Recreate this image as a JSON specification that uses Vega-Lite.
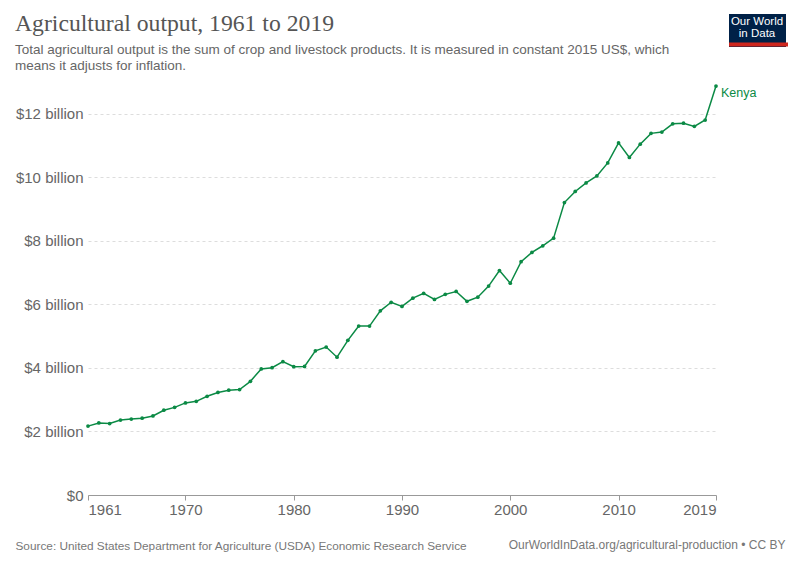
{
  "$schema": "https://vega.github.io/schema/vega-lite/v6.json",
  "width": 628,
  "height": 410,
  "autosize": {"type": "none"},
  "padding": {"left": 88, "top": 85, "right": 84, "bottom": 70},
  "background": "white",
  "config": {"view": {"stroke": null}, "font": "Liberation Sans"},
  "title": {
    "text": "Agricultural output, 1961 to 2019",
    "subtitle": ["Total agricultural output is the sum of crop and livestock products. It is measured in constant 2015 US$, which", "means it adjusts for inflation."],
    "anchor": "start",
    "frame": "group",
    "dx": -73,
    "offset": -58,
    "font": "Liberation Serif",
    "fontSize": 23.7,
    "fontWeight": "normal",
    "color": "#555555",
    "subtitleFont": "Liberation Sans",
    "subtitleFontSize": 13.5,
    "subtitleColor": "#666666",
    "subtitleLineHeight": 16,
    "subtitlePadding": 7
  },
  "data": {
    "values": [
      {"year": 1961, "country": "Kenya", "output_billion": 2.17},
      {"year": 1962, "country": "Kenya", "output_billion": 2.27},
      {"year": 1963, "country": "Kenya", "output_billion": 2.25},
      {"year": 1964, "country": "Kenya", "output_billion": 2.36},
      {"year": 1965, "country": "Kenya", "output_billion": 2.39},
      {"year": 1966, "country": "Kenya", "output_billion": 2.42},
      {"year": 1967, "country": "Kenya", "output_billion": 2.49},
      {"year": 1968, "country": "Kenya", "output_billion": 2.67},
      {"year": 1969, "country": "Kenya", "output_billion": 2.76},
      {"year": 1970, "country": "Kenya", "output_billion": 2.90},
      {"year": 1971, "country": "Kenya", "output_billion": 2.95},
      {"year": 1972, "country": "Kenya", "output_billion": 3.11},
      {"year": 1973, "country": "Kenya", "output_billion": 3.23},
      {"year": 1974, "country": "Kenya", "output_billion": 3.30},
      {"year": 1975, "country": "Kenya", "output_billion": 3.32},
      {"year": 1976, "country": "Kenya", "output_billion": 3.58},
      {"year": 1977, "country": "Kenya", "output_billion": 3.97},
      {"year": 1978, "country": "Kenya", "output_billion": 4.01},
      {"year": 1979, "country": "Kenya", "output_billion": 4.20},
      {"year": 1980, "country": "Kenya", "output_billion": 4.04},
      {"year": 1981, "country": "Kenya", "output_billion": 4.05},
      {"year": 1982, "country": "Kenya", "output_billion": 4.54},
      {"year": 1983, "country": "Kenya", "output_billion": 4.66},
      {"year": 1984, "country": "Kenya", "output_billion": 4.34},
      {"year": 1985, "country": "Kenya", "output_billion": 4.87},
      {"year": 1986, "country": "Kenya", "output_billion": 5.32},
      {"year": 1987, "country": "Kenya", "output_billion": 5.32},
      {"year": 1988, "country": "Kenya", "output_billion": 5.80},
      {"year": 1989, "country": "Kenya", "output_billion": 6.07},
      {"year": 1990, "country": "Kenya", "output_billion": 5.94},
      {"year": 1991, "country": "Kenya", "output_billion": 6.20},
      {"year": 1992, "country": "Kenya", "output_billion": 6.35},
      {"year": 1993, "country": "Kenya", "output_billion": 6.16},
      {"year": 1994, "country": "Kenya", "output_billion": 6.32},
      {"year": 1995, "country": "Kenya", "output_billion": 6.41},
      {"year": 1996, "country": "Kenya", "output_billion": 6.10},
      {"year": 1997, "country": "Kenya", "output_billion": 6.23},
      {"year": 1998, "country": "Kenya", "output_billion": 6.58},
      {"year": 1999, "country": "Kenya", "output_billion": 7.07},
      {"year": 2000, "country": "Kenya", "output_billion": 6.67},
      {"year": 2001, "country": "Kenya", "output_billion": 7.35},
      {"year": 2002, "country": "Kenya", "output_billion": 7.64},
      {"year": 2003, "country": "Kenya", "output_billion": 7.85},
      {"year": 2004, "country": "Kenya", "output_billion": 8.09},
      {"year": 2005, "country": "Kenya", "output_billion": 9.21},
      {"year": 2006, "country": "Kenya", "output_billion": 9.56},
      {"year": 2007, "country": "Kenya", "output_billion": 9.83},
      {"year": 2008, "country": "Kenya", "output_billion": 10.05},
      {"year": 2009, "country": "Kenya", "output_billion": 10.46},
      {"year": 2010, "country": "Kenya", "output_billion": 11.09},
      {"year": 2011, "country": "Kenya", "output_billion": 10.63},
      {"year": 2012, "country": "Kenya", "output_billion": 11.05},
      {"year": 2013, "country": "Kenya", "output_billion": 11.39},
      {"year": 2014, "country": "Kenya", "output_billion": 11.43},
      {"year": 2015, "country": "Kenya", "output_billion": 11.69},
      {"year": 2016, "country": "Kenya", "output_billion": 11.71},
      {"year": 2017, "country": "Kenya", "output_billion": 11.61},
      {"year": 2018, "country": "Kenya", "output_billion": 11.81},
      {"year": 2019, "country": "Kenya", "output_billion": 12.88}
    ]
  },
  "encoding": {
    "x": {
      "field": "year",
      "type": "quantitative",
      "scale": {"domain": [1961, 2019], "nice": false, "zero": false},
      "axis": {
        "values": [1961, 1970, 1980, 1990, 2000, 2010, 2019],
        "format": "d",
        "grid": false,
        "labelFlush": true,
        "domainColor": "#999999",
        "tickColor": "#999999",
        "tickSize": 5,
        "labelPadding": 2,
        "labelFontSize": 15,
        "labelColor": "#666666",
        "title": "Source: United States Department for Agriculture (USDA) Economic Research Service",
        "titleX": -73,
        "titleY": 54,
        "titleAlign": "left",
        "titleAnchor": null,
        "titleBaseline": "alphabetic",
        "titleFontSize": 11.8,
        "titleFontWeight": "normal",
        "titleColor": "#777777"
      }
    },
    "y": {
      "field": "output_billion",
      "type": "quantitative",
      "scale": {"domain": [0, 12.913], "nice": false},
      "axis": {
        "values": [0, 2, 4, 6, 8, 10, 12],
        "labelExpr": "datum.value == 0 ? '$0' : '$' + datum.value + ' billion'",
        "grid": true,
        "gridDash": [3, 3],
        "gridColor": "#dddddd",
        "domain": false,
        "ticks": false,
        "labelPadding": 5,
        "labelFontSize": 15,
        "labelColor": "#666666",
        "title": "OurWorldInData.org/agricultural-production • CC BY",
        "titleAngle": 0,
        "titleX": 697,
        "titleY": 463,
        "titleAlign": "right",
        "titleAnchor": null,
        "titleBaseline": "alphabetic",
        "titleFontSize": 12,
        "titleFontWeight": "normal",
        "titleColor": "#777777"
      }
    }
  },
  "layer": [
    {
      "mark": {"type": "line", "strokeWidth": 1.5},
      "encoding": {
        "color": {
          "field": "country",
          "type": "nominal",
          "scale": {"range": ["#0b8a45"]},
          "legend": {
            "orient": "none",
            "legendX": 641,
            "legendY": -71,
            "title": ["Our World", "in Data"],
            "titleColor": "white",
            "titleFont": "Liberation Sans",
            "titleFontSize": 11.5,
            "titleFontWeight": "normal",
            "titleLineHeight": 12,
            "titleAlign": "center",
            "titleAnchor": "middle",
            "titlePadding": 0,
            "fillColor": "#002147",
            "padding": 2,
            "symbolSize": 0,
            "symbolStrokeWidth": 0,
            "labelFontSize": 0,
            "labelOffset": 0,
            "labelExpr": "''"
          }
        },
        "opacity": {
          "datum": "bar",
          "type": "nominal",
          "scale": {"range": [1]},
          "legend": {
            "orient": "none",
            "legendX": 641,
            "legendY": -42.5,
            "title": null,
            "fillColor": "#ce261e",
            "padding": 0,
            "symbolSize": 0,
            "symbolStrokeWidth": 0,
            "labelOffset": 0,
            "labelFontSize": 3.5,
            "labelColor": "rgba(0,0,0,0)",
            "labelExpr": "'MMMMMMMMMMMMMMMMMMM'"
          }
        }
      }
    },
    {
      "mark": {"type": "point", "filled": true, "size": 14, "opacity": 1, "color": "#0b8a45"}
    },
    {
      "transform": [{"filter": "datum.year == 2019"}],
      "mark": {"type": "text", "align": "left", "dx": 5, "dy": 7, "fontSize": 12.5, "color": "#0b8a45", "font": "Liberation Sans"},
      "encoding": {"text": {"field": "country"}}
    }
  ]
}
